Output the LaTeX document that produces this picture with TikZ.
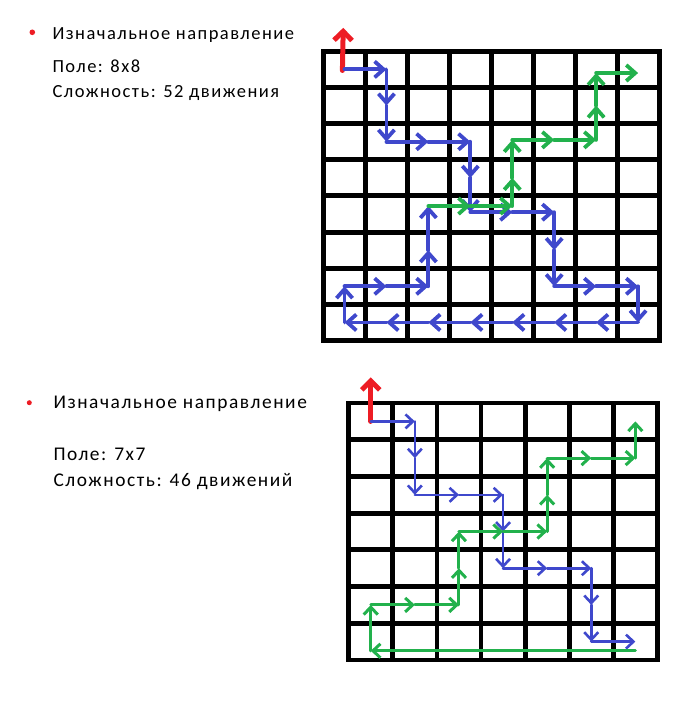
\documentclass[tikz,border=0pt]{standalone}
\usepackage{fontspec}
\setmainfont{Carlito}[LetterSpace=8]
\usetikzlibrary{arrows.meta}

\definecolor{paintred}{HTML}{ED1C24}
\definecolor{paintblue}{HTML}{3F48CC}
\definecolor{paintgreen}{HTML}{22B14C}

\tikzset{
  gridline/.style={line width=5pt},
  move/.style={line width=3.8pt, line cap=round, -{Straight Barb[length=9pt, width=16pt]}},
  smallmove/.style={line width=2.6pt, line cap=round, -{Straight Barb[length=7.5pt, width=14pt]}},
  bluemove/.style={move, paintblue},
  greenmove/.style={move, paintgreen},
  startarrow/.style={line width=5pt, line cap=round, paintred, -{Straight Barb[length=9pt, width=18pt]}},
  caption/.style={anchor=base west, inner sep=0pt, font=\fontsize{18.5}{22}\selectfont},
}

\begin{document}
\begin{tikzpicture}[x=1pt, y=-1pt]
    \useasboundingbox (0,0) rectangle (685,717);

    % First board: 8x8
    \fill[paintred] (32.3,32.3) circle (2.8) coordinate (bullet1);
    \node[caption] (dir1) at (52.3,39.5) {Изначальное направление};
    \node[caption] (field1) at (52.3,73) {Поле: 8x8};
    \node[caption] (level1) at (52.3,97.5) {Сложность: 52 движения};

    \begin{scope}[shift={(344.5,69.4)}, x=41.94pt, y=-36.15pt]
      \foreach \i in {0,...,8} {
        \draw[gridline] (\i-0.5,-0.5) -- (\i-0.5,7.5);
        \draw[gridline] (-0.5,\i-0.5) -- (7.5,\i-0.5);
      }
      \draw[gridline] (-0.5,-0.5) rectangle (7.5,7.5);
      \draw[startarrow] (-0.05,0.03) coordinate (start1) -- (-0.03,-1.15);
      % Moves
      \foreach \c/\r [remember=\c as \pc (initially 0), remember=\r as \pr (initially 0)] in
        {1/0,1/1,1/2,2/2,3/2,3/3,3/3.95,4/3.95,5/3.95,5/5,5/6,6/6,7/6,7/7,6/7,5/7,4/7,3/7,2/7,1/7,0/7,0/6,1/6,2/6,2/5,2/3.78}
        \draw[bluemove] (\pc,\pr) -- (\c,\r);
      \foreach \c/\r [remember=\c as \pc (initially 2), remember=\r as \pr (initially 3.78)] in
        {3/3.78,4/3.78,4/3,4/1.95,5/1.95,6/1.95,6/1,6/0.1,7/0.1}
        \draw[greenmove] (\pc,\pr) -- (\c,\r);
    \end{scope}

    % Second board: 7x7
    \fill[paintred] (29.3,402.7) circle (2.5) coordinate (bullet2);
    \node[caption, font=\fontsize{19.4}{23}\selectfont] (dir2) at (53.3,408.5) {Изначальное направление};
    \node[caption, font=\fontsize{19.4}{23}\selectfont] (field2) at (53.3,460.7) {Поле: 7x7};
    \node[caption, font=\fontsize{19.4}{23}\selectfont] (level2) at (53.3,486.5) {Сложность: 46 движений};

    \begin{scope}[shift={(370.75,421.4)}, x=44.1pt, y=-36.7pt]
      \foreach \i in {0,...,7} {
        \draw[gridline, line width=4.8pt] (\i-0.5,-0.5) -- (\i-0.5,6.5);
        \draw[gridline, line width=4.8pt] (-0.5,\i-0.5) -- (6.5,\i-0.5);
      }
      \draw[gridline, line width=4.8pt] (-0.5,-0.5) rectangle (6.5,6.5);
      \draw[startarrow] (0,0) coordinate (start2) -- (0,-1.2);
      % Moves
      \foreach \c/\r [remember=\c as \pc (initially 0), remember=\r as \pr (initially 0)] in
        {1/0,1/1,1/2,2/2,3/2,3/3,3/4,4/4,5/4,5/5,5/6,6/6}
        \draw[smallmove, paintblue, line width=2.6pt] (\pc,\pr) -- (\c,\r);
      \foreach \c/\r [remember=\c as \pc (initially 6), remember=\r as \pr (initially 6.25)] in
        {0/6.25,0/5,1/5,2/5,2/4,2/3,3/3,4/3,4/2,4/1,5/1,6/1,6/0}
        \draw[smallmove, paintgreen, line width=3pt] (\pc,\pr) -- (\c,\r);
    \end{scope}
\end{tikzpicture}
\end{document}
